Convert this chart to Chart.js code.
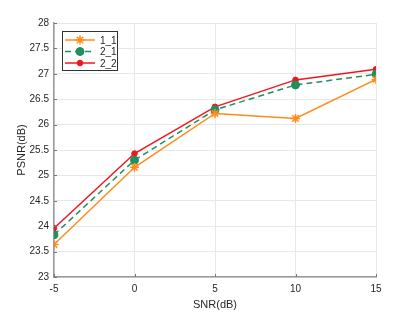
<!DOCTYPE html>
<html>
<head>
<meta charset="utf-8">
<script src="https://cdn.jsdelivr.net/npm/chart.js@4"></script>
<style>
  html, body { margin: 0; padding: 0; background: #fff; }
  #wrap { width: 415px; height: 312px; }
</style>
</head>
<body>
<div id="wrap"><canvas id="chart" width="415" height="312"></canvas></div>
<script>
// SNR points and PSNR values
const snr = [-5, 0, 5, 10, 15];
const psnr11 = [23.64, 25.16, 26.22, 26.12, 26.89];
const psnr21 = [23.83, 25.30, 26.29, 26.78, 26.99];
const psnr22 = [23.96, 25.43, 26.35, 26.88, 27.09];
const seriesNames = ['1_1', '2_1', '2_2'];
const yTicks = [23, 23.5, 24, 24.5, 25, 25.5, 26, 26.5, 27, 27.5, 28];

const font = 'Liberation Sans, Arial, sans-serif';

// short inward tick marks, matlab style
const innerTicks = {
    id: 'innerTicks',
    afterDatasetsDraw(chart) {
        const ctx = chart.ctx;
        const xs = chart.scales.x, ys = chart.scales.y;
        ctx.save();
        ctx.strokeStyle = '#777';
        ctx.lineWidth = 1;
        ctx.beginPath();
        xs.ticks.forEach(t => {
            const px = Math.round(xs.getPixelForValue(t.value)) + 0.5;
            ctx.moveTo(px, ys.bottom);
            ctx.lineTo(px, ys.bottom - 3);
        });
        ys.ticks.forEach(t => {
            const py = Math.round(ys.getPixelForValue(t.value)) + 0.5;
            ctx.moveTo(xs.left, py);
            ctx.lineTo(xs.left + 3, py);
        });
        ctx.stroke();
        ctx.restore();
    }
};

// legend drawn inside the axes, top-left, like the matlab figure
const insideLegend = {
    id: 'insideLegend',
    afterDraw(chart) {
        const ctx = chart.ctx;
        const x0 = 62, y0 = 31, w = 55, h = 39;
        ctx.save();
        ctx.fillStyle = '#fff';
        ctx.fillRect(x0, y0, w, h);
        ctx.strokeStyle = '#333';
        ctx.lineWidth = 1;
        ctx.strokeRect(x0 + 0.5, y0 + 0.5, w, h);
        chart.data.datasets.forEach((ds, i) => {
            const y = y0 + 9 + i * 11.5;
            ctx.strokeStyle = ds.borderColor;
            ctx.lineWidth = ds.borderWidth;
            ctx.setLineDash(ds.borderDash || []);
            ctx.beginPath();
            ctx.moveTo(x0 + 3, y);
            ctx.lineTo(x0 + 33, y);
            ctx.stroke();
            ctx.setLineDash([]);
            ctx.fillStyle = ds.backgroundColor;
            ctx.strokeStyle = ds.borderColor;
            ctx.lineWidth = ds.pointBorderWidth || 1;
            Chart.helpers.drawPoint(ctx, {
                pointStyle: ds.pointStyle,
                radius: ds.pointRadius,
                borderWidth: ds.pointBorderWidth || 1
            }, x0 + 18, y);
            ctx.fillStyle = '#262626';
            ctx.font = '10px ' + font;
            ctx.textBaseline = 'middle';
            ctx.fillText(ds.label, x0 + 38, y + 1);
        });
        ctx.restore();
    }
};

new Chart(document.getElementById('chart'), {
    type: 'line',
    data: {
        datasets: [{
            label: seriesNames[0],
            data: snr.map((s, i) => ({ x: s, y: psnr11[i] })),
            borderColor: '#ff8c1a',
            backgroundColor: '#ff8c1a',
            pointBorderColor: '#ff8c1a',
            borderWidth: 1.5,
            pointStyle: 'star',
            pointRadius: 4.5,
            pointBorderWidth: 1.5
        }, {
            label: seriesNames[1],
            data: snr.map((s, i) => ({ x: s, y: psnr21[i] })),
            borderColor: '#1f9060',
            backgroundColor: '#1f9060',
            pointBorderColor: '#1f9060',
            borderWidth: 1.5,
            borderDash: [6, 4],
            pointStyle: 'circle',
            pointRadius: 4,
            pointBorderWidth: 1
        }, {
            label: seriesNames[2],
            data: snr.map((s, i) => ({ x: s, y: psnr22[i] })),
            borderColor: '#f5141e',
            backgroundColor: '#f5141e',
            pointBorderColor: '#f5141e',
            borderWidth: 1.5,
            pointStyle: 'circle',
            pointRadius: 2.8,
            pointBorderWidth: 1
        }]
    },
    options: {
        responsive: false,
        animation: false,
        layout: { padding: { top: 23, right: 39, left: 15, bottom: 0 } },
        plugins: {
            legend: { display: false },
            tooltip: { enabled: false }
        },
        scales: {
            x: {
                type: 'linear',
                min: -5,
                max: 15,
                ticks: { stepSize: 5, color: '#262626', font: { size: 10, family: font }, padding: 6 },
                grid: { color: '#e8e8e8', drawTicks: false },
                border: { color: '#999', width: 1.5 },
                title: { display: true, text: 'SNR(dB)', color: '#262626', font: { size: 11, family: font }, padding: { top: 1, bottom: 0 } },
                afterFit(scale) { scale.height = 35; }
            },
            y: {
                min: 23,
                max: 28,
                afterBuildTicks(scale) { scale.ticks = yTicks.map(v => ({ value: v })); },
                ticks: { color: '#262626', font: { size: 10, family: font }, padding: 5, callback: v => String(v) },
                grid: { color: '#e8e8e8', drawTicks: false },
                border: { color: '#999', width: 1.5 },
                title: { display: true, text: 'PSNR(dB)', color: '#262626', font: { size: 11, family: font }, padding: { top: 0, bottom: 4 } },
                afterFit(scale) { scale.width = 39; }
            }
        }
    },
    plugins: [innerTicks, insideLegend]
});
</script>
</body>
</html>
